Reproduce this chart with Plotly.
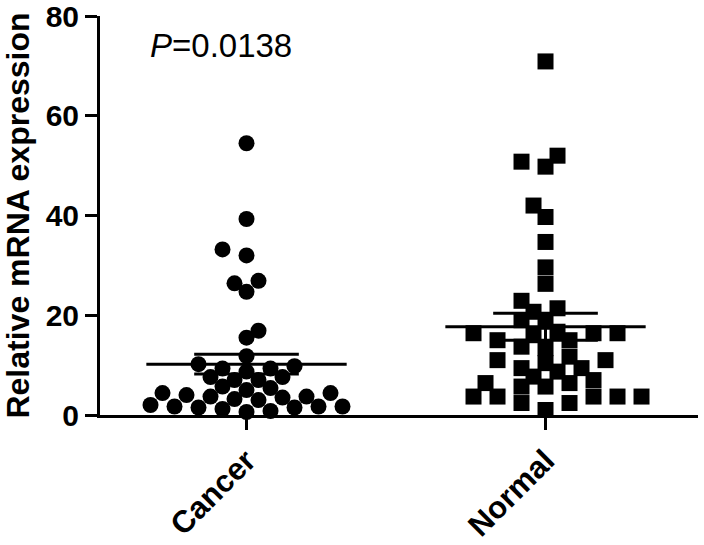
import plotly.graph_objects as go

# Relative mRNA expression per sample
groups = ["Cancer", "Normal"]

cancer = [54.5, 39.3, 33.2, 32.0, 26.9, 26.4, 24.7, 16.9, 15.5,
          11.8, 10.2, 9.8, 9.3, 9.3,
          8.7, 7.6, 7.6, 7.0, 7.0,
          5.7, 5.4, 5.0,
          4.4, 4.4, 4.0, 3.7, 3.7, 3.5, 3.2, 3.0,
          2.0, 1.7, 1.7, 1.7, 1.5, 1.5, 1.2, 0.8, 0.6]

normal = [70.9, 52.0, 50.8, 49.8, 42.0, 39.7, 34.7, 29.6, 26.3,
          22.9, 21.4, 20.7, 19.0, 18.7, 16.7, 16.4, 16.4, 16.4, 16.0, 15.0, 15.0,
          13.7, 13.4, 11.7, 11.0, 11.0, 10.4, 9.4, 9.4, 8.7, 7.7,
          7.0, 6.4, 6.4, 5.7, 5.7,
          3.7, 3.7, 3.7, 3.7, 3.7, 2.4, 2.4, 1.0]

# mean and SEM bars
means = [10.2, 17.7]
sems = [2.0, 2.7]

p_text = "<i>P</i>=0.0138"

W, H = 704, 545
margin = dict(l=100, r=6, t=16, b=130)
x_range = [-0.49, 1.51]
y_range = [0, 80.01]
marker_px = 16

px_per_x = (W - margin["l"] - margin["r"]) / (x_range[1] - x_range[0])
px_per_y = (H - margin["t"] - margin["b"]) / (y_range[1] - y_range[0])


def swarm(values, center, step=12, diam=14):
    """simple beeswarm: push points sideways until they stop overlapping,
    alternating sides so the swarm stays balanced"""
    placed = []
    xs = [None] * len(values)
    for i in sorted(range(len(values)), key=lambda j: values[j]):
        y = values[i] * px_per_y
        sign = -1 if sum(a for a, _ in placed) > 0 else 1
        offsets = [0]
        for k in range(1, 30):
            offsets += [sign * k * step, -sign * k * step]
        for off in offsets:
            if all((off - a) ** 2 + (y - b) ** 2 >= diam ** 2 for a, b in placed):
                break
        placed.append((off, y))
        xs[i] = center + off / px_per_x
    return xs


fig = go.Figure()

for idx, (vals, symbol, d) in enumerate([(cancer, "circle", 13.5), (normal, "square", 14.5)]):
    fig.add_trace(go.Scatter(
        x=swarm(vals, idx, diam=d), y=vals, mode="markers",
        marker=dict(symbol=symbol, size=marker_px, color="black", line=dict(width=0)),
        cliponaxis=False, showlegend=False, hoverinfo="y"
    ))

    # mean line + SEM whiskers
    mean, sem = means[idx], sems[idx]
    mw, cw = 0.335, 0.175
    fig.add_trace(go.Scatter(
        x=[idx - mw, idx + mw, None, idx - cw, idx + cw, None, idx - cw, idx + cw, None, idx, idx],
        y=[mean, mean, None, mean + sem, mean + sem, None, mean - sem, mean - sem, None,
           mean - sem, mean + sem],
        mode="lines", line=dict(color="black", width=3),
        showlegend=False, hoverinfo="skip"
    ))

fig.add_annotation(
    x=-0.085, y=74, xref="x", yref="y", text=p_text, showarrow=False,
    font=dict(family="Arial, Liberation Sans, sans-serif", size=33, color="black")
)

fig.update_layout(
    width=W, height=H, margin=margin,
    paper_bgcolor="white", plot_bgcolor="white",
    font=dict(family="Arial, Liberation Sans, sans-serif", color="black"),
    xaxis=dict(
        range=x_range, tickvals=[0, 1], ticktext=groups, tickangle=-45,
        showline=True, linewidth=3, linecolor="black",
        ticks="outside", ticklen=12, tickwidth=3, tickcolor="black",
        showgrid=False, zeroline=False, automargin=False,
        ticklabeloverflow="allow",
        tickfont=dict(size=31, weight="bold")
    ),
    yaxis=dict(
        range=y_range, tickvals=[0, 20, 40, 60, 80],
        showline=True, linewidth=3, linecolor="black",
        ticks="outside", ticklen=12, tickwidth=3, tickcolor="black",
        showgrid=False, zeroline=False, automargin=False,
        ticklabeloverflow="allow",
        tickfont=dict(size=30, weight="bold"),
        title=dict(text="Relative mRNA expression", standoff=9,
                   font=dict(size=32, weight="bold"))
    )
)

# the page's default body margin would push the figure 8px down/right
fig.write_html("out.html", config={"displayModeBar": False},
               post_script="document.body.style.margin='0px';")
